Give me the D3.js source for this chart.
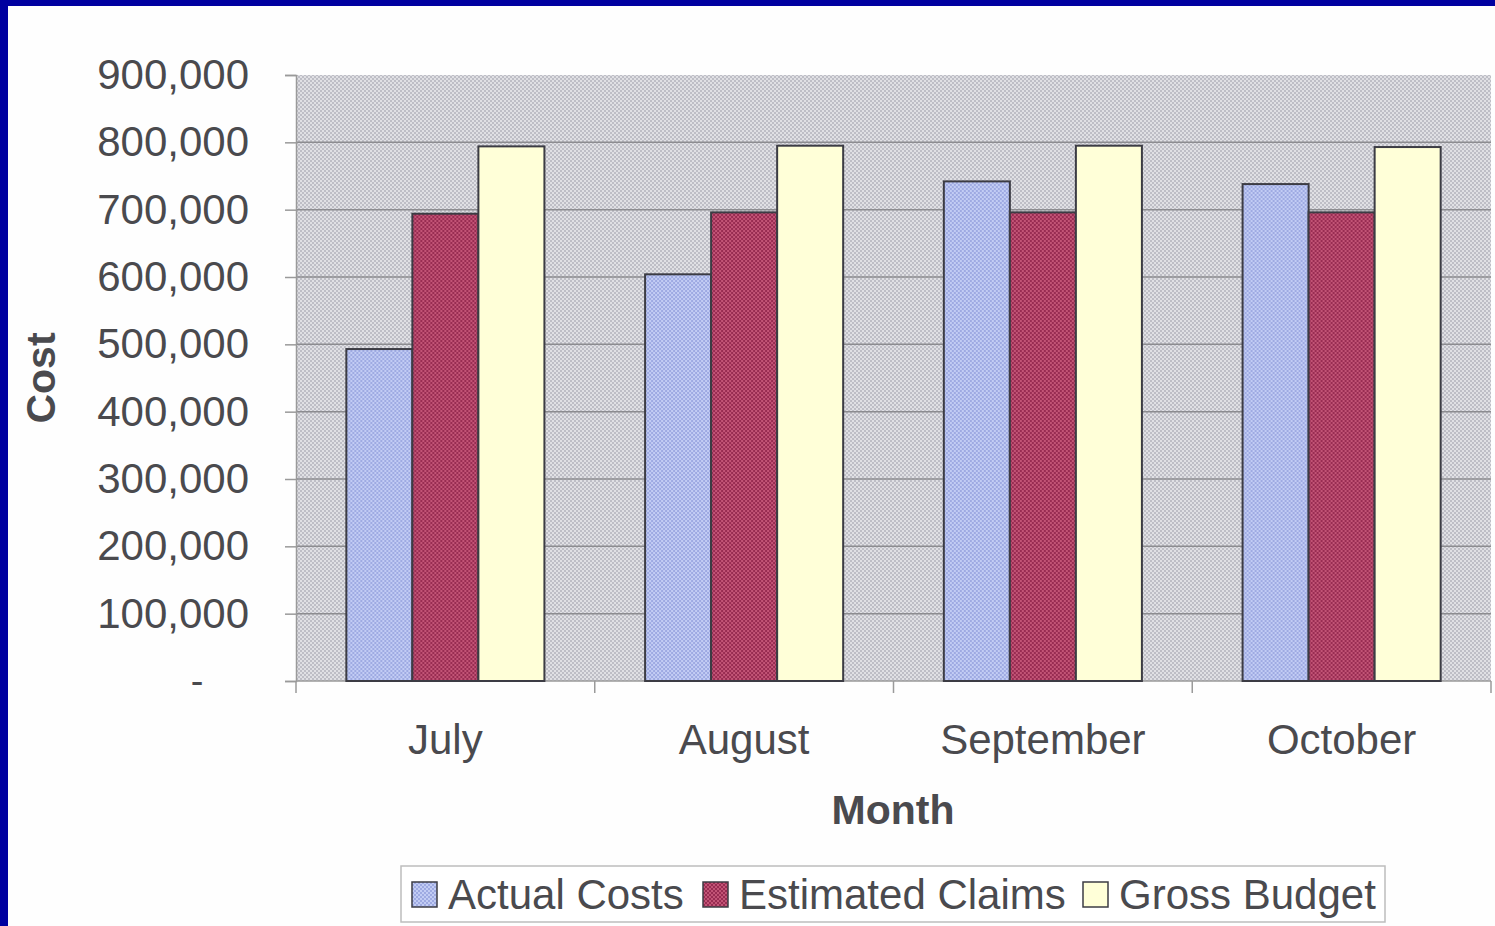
<!DOCTYPE html>
<html>
<head>
<meta charset="utf-8">
<script src="https://cdn.jsdelivr.net/npm/d3@7"></script>
<style>
  body { margin: 0; background: #fff; }
  svg { display: block; font-family: "Liberation Sans", Arial, sans-serif; }
</style>
</head>
<body>
<div id="chart"></div>
<script>
// data
const months = ["July", "August", "September", "October"];
const seriesNames = ["Actual Costs", "Estimated Claims", "Gross Budget"];
const actualCosts = [493000, 604000, 742000, 738000];
const estimatedClaims = [694000, 696000, 696000, 696000];
const grossBudget = [794000, 795000, 795000, 793000];
const yTicks = [0, 100000, 200000, 300000, 400000, 500000, 600000, 700000, 800000, 900000];

const width = 1495, height = 926;
const plot = { left: 296, right: 1491, top: 75, bottom: 681 };

const svg = d3.select("#chart")
  .append("svg")
  .attr("width", width)
  .attr("height", height);

// dither patterns like the scanned excel fills
const defs = svg.append("defs");
function dither(id, a, b) {
  const p = defs.append("pattern")
    .attr("id", id)
    .attr("width", 4).attr("height", 4)
    .attr("patternUnits", "userSpaceOnUse");
  p.append("rect").attr("width", 4).attr("height", 4).attr("fill", a);
  p.append("rect").attr("width", 2).attr("height", 2).attr("fill", b);
  p.append("rect").attr("x", 2).attr("y", 2).attr("width", 2).attr("height", 2).attr("fill", b);
}
dither("bgPat", "#bebec6", "#e0e0e4");
dither("bluePat", "#9eaae2", "#c2ccf4");
dither("redPat", "#982c52", "#c25476");

const fills = ["url(#bluePat)", "url(#redPat)", "#ffffd8"];

svg.append("rect").attr("width", width).attr("height", height).attr("fill", "#fefefe");

const x = d3.scaleBand()
  .domain(months)
  .range([plot.left, plot.right])
  .paddingInner(0.337)
  .paddingOuter(0.1685);

const x1 = d3.scaleBand()
  .domain(seriesNames)
  .range([0, x.bandwidth()]);

const y = d3.scaleLinear()
  .domain([0, 900000])
  .range([plot.bottom, plot.top]);

// plot area
svg.append("rect")
  .attr("x", plot.left).attr("y", plot.top)
  .attr("width", plot.right - plot.left)
  .attr("height", plot.bottom - plot.top)
  .attr("fill", "url(#bgPat)");

// gridlines (none on the top edge)
svg.append("g")
  .selectAll("line")
  .data(yTicks.slice(1, -1))
  .enter()
  .append("line")
  .attr("x1", plot.left).attr("x2", plot.right)
  .attr("y1", d => y(d)).attr("y2", d => y(d))
  .attr("stroke", "#8c8c90")
  .attr("stroke-width", 1.5);

// y axis
const yAxis = svg.append("g")
  .attr("transform", `translate(${plot.left},0)`)
  .call(d3.axisLeft(y)
    .tickValues(yTicks)
    .tickSize(11)
    .tickPadding(36)
    .tickFormat(d => d === 0 ? "-" : d3.format(",")(d)));
yAxis.select(".domain").attr("stroke", "#9a9a9a").attr("stroke-width", 1.5);
yAxis.selectAll(".tick line").attr("stroke", "#9a9a9a").attr("stroke-width", 1.5);
yAxis.selectAll(".tick text")
  .attr("font-size", 42)
  .attr("fill", "#4a4a4e");
yAxis.selectAll(".tick text").filter(d => d === 0)
  .attr("text-anchor", "middle")
  .attr("x", -99)
  .attr("font-size", 38);

// x axis
svg.append("line")
  .attr("x1", plot.left).attr("x2", plot.right)
  .attr("y1", plot.bottom).attr("y2", plot.bottom)
  .attr("stroke", "#9a9a9a").attr("stroke-width", 1.5);

svg.append("g")
  .selectAll("line")
  .data([plot.left].concat(months.slice(1).map(m => x(m) - (x.step() - x.bandwidth()) / 2), [plot.right]))
  .enter()
  .append("line")
  .attr("x1", d => d).attr("x2", d => d)
  .attr("y1", plot.bottom).attr("y2", plot.bottom + 12)
  .attr("stroke", "#9a9a9a").attr("stroke-width", 1.5);

svg.append("g")
  .selectAll("text")
  .data(months)
  .enter()
  .append("text")
  .attr("x", d => x(d) + x.bandwidth() / 2)
  .attr("y", 754)
  .attr("text-anchor", "middle")
  .attr("font-size", 42)
  .attr("fill", "#4a4a4e")
  .text(d => d);

// bars
const seriesValues = [actualCosts, estimatedClaims, grossBudget];
const groups = svg.append("g")
  .selectAll("g")
  .data(months)
  .enter()
  .append("g")
  .attr("transform", d => `translate(${x(d)},0)`);

groups.selectAll("rect")
  .data((m, i) => seriesNames.map((s, k) => ({ s, k, v: seriesValues[k][i] })))
  .enter()
  .append("rect")
  .attr("x", d => x1(d.s))
  .attr("y", d => y(d.v))
  .attr("width", x1.bandwidth())
  .attr("height", d => y(0) - y(d.v))
  .attr("fill", d => fills[d.k])
  .attr("stroke", "#3c3c44")
  .attr("stroke-width", 2);

// axis titles
svg.append("text")
  .attr("x", 893).attr("y", 824)
  .attr("text-anchor", "middle")
  .attr("font-size", 41)
  .attr("font-weight", "bold")
  .attr("fill", "#4a4a4e")
  .text("Month");

svg.append("text")
  .attr("transform", "translate(55,378) rotate(-90)")
  .attr("text-anchor", "middle")
  .attr("font-size", 41)
  .attr("font-weight", "bold")
  .attr("fill", "#4a4a4e")
  .text("Cost");

// legend
const legend = svg.append("g");
legend.append("rect")
  .attr("x", 401).attr("y", 866)
  .attr("width", 984).attr("height", 56)
  .attr("fill", "#fff")
  .attr("stroke", "#bdbdbd")
  .attr("stroke-width", 1.5);

const legendX = [412, 703, 1083];
const items = legend.selectAll("g.item")
  .data(seriesNames)
  .enter()
  .append("g")
  .attr("class", "item")
  .attr("transform", (d, i) => `translate(${legendX[i]},882)`);
items.append("rect")
  .attr("width", 25).attr("height", 25)
  .attr("fill", (d, i) => fills[i])
  .attr("stroke", "#3c3c44")
  .attr("stroke-width", 1.5);
items.append("text")
  .attr("x", 36).attr("y", 27)
  .attr("font-size", 42)
  .attr("fill", "#4a4a4e")
  .text(d => d);

// blue frame of the slide
svg.append("rect").attr("x", 0).attr("y", 0).attr("width", width).attr("height", 6).attr("fill", "#0000a0");
svg.append("rect").attr("x", 0).attr("y", 0).attr("width", 8).attr("height", height).attr("fill", "#0000a0");
</script>
</body>
</html>
